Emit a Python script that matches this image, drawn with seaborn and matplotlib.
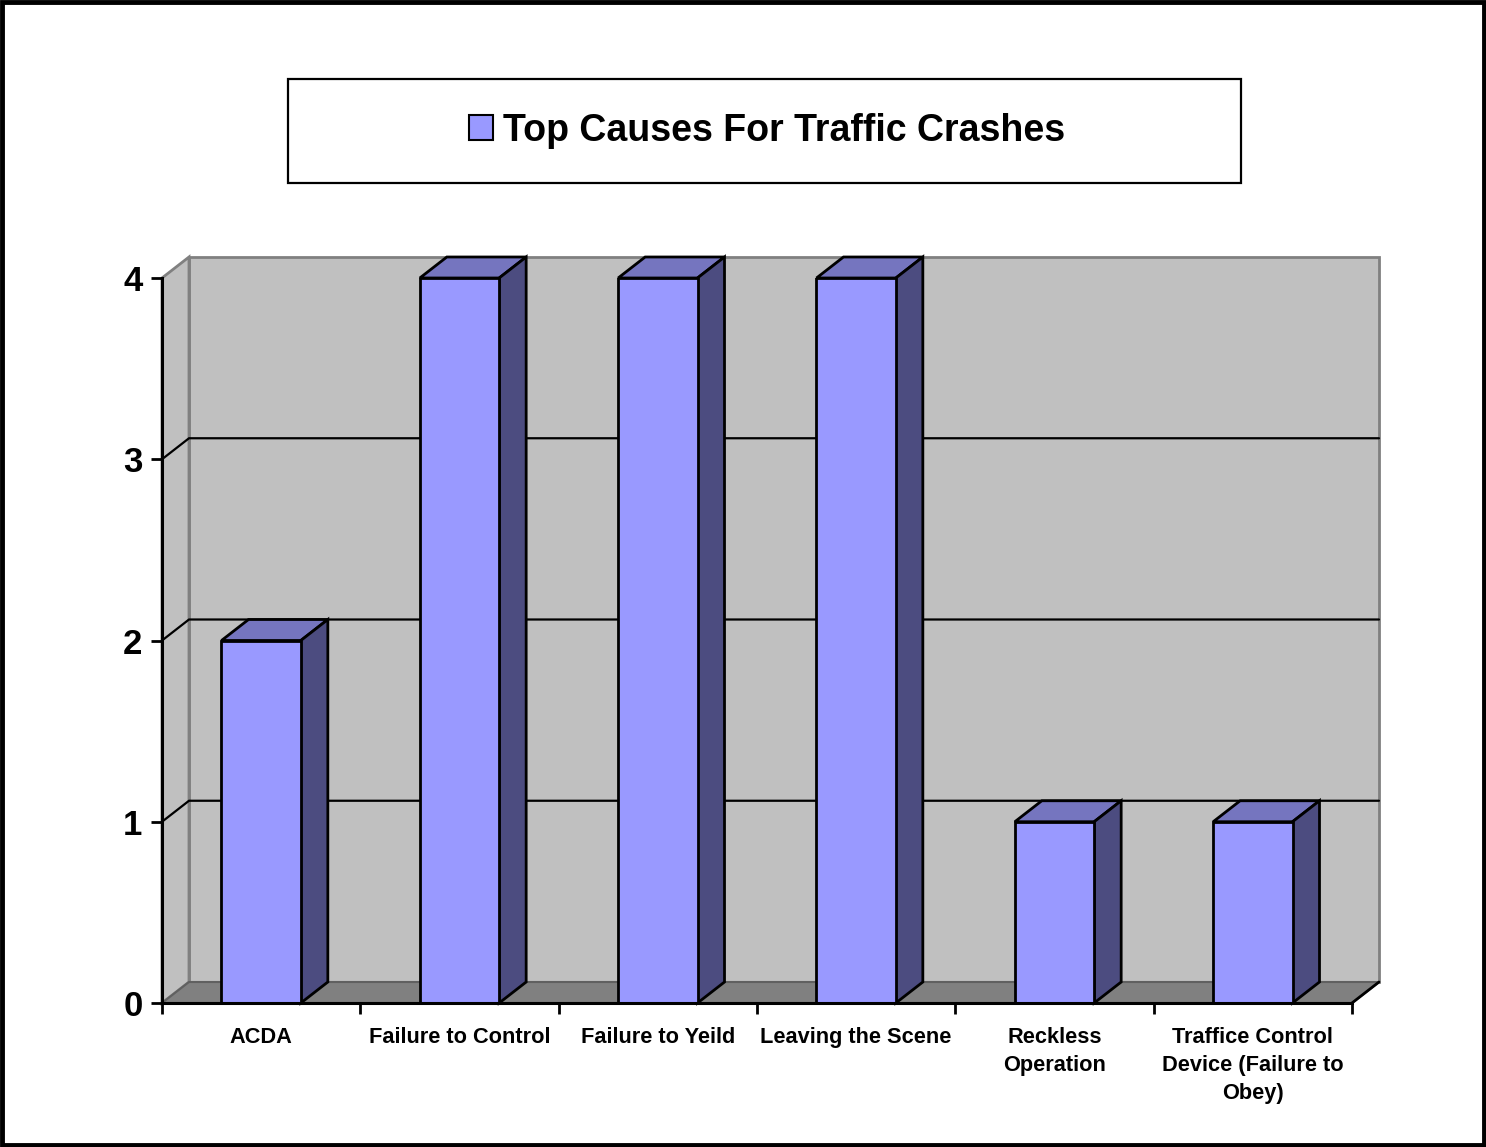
import matplotlib
matplotlib.use("Agg")
import matplotlib.pyplot as plt
from matplotlib.patches import Polygon, Rectangle, Patch
import seaborn as sns

# chart data
causes = ["ACDA", "Failure to Control", "Failure to Yeild", "Leaving the Scene",
          "Reckless Operation", "Traffice Control Device (Failure to Obey)"]
counts = [2, 4, 4, 4, 1, 1]
tick_labels = ["ACDA", "Failure to Control", "Failure to Yeild", "Leaving the Scene",
               "Reckless\nOperation", "Traffice Control\nDevice (Failure to\nObey)"]
series_name = "Top Causes For Traffic Crashes"
yticks = [0, 1, 2, 3, 4]

front_col = "#9999FF"
top_col = "#7575BF"
side_col = "#4C4C80"
wall_col = "#C0C0C0"
floor_col = "#808080"

sns.set_theme(style="white")
plt.rcParams["font.family"] = ["Liberation Sans", "DejaVu Sans"]
plt.rcParams["font.weight"] = "bold"
plt.rcParams["text.color"] = "black"
plt.rcParams["xtick.color"] = "black"
plt.rcParams["ytick.color"] = "black"

W, H = 1486, 1147
fig = plt.figure(figsize=(W / 100, H / 100), dpi=100)
fig.patch.set_facecolor("white")
ax = fig.add_axes([162 / W, 144 / H, 1190 / W, 725 / H])
ax.patch.set_visible(False)

sns.barplot(x=causes, y=counts, color=front_col, width=0.4, saturation=1,
            edgecolor="black", linewidth=2, ax=ax, zorder=3)

n = len(causes)
ax.set_xlim(-0.5, n - 0.5)
ax.set_ylim(0, 4)
# depth offset of the pseudo-3d box (in data units)
dx, dy = 27 / (1190 / n), 21 / (725 / 4)
x0, x1 = -0.5, n - 0.5
ymax = 4

# back wall, left wall, floor
ax.add_patch(Polygon([(x0 + dx, dy), (x1 + dx, dy), (x1 + dx, ymax + dy), (x0 + dx, ymax + dy)],
                     closed=True, facecolor=wall_col, edgecolor="#808080", lw=2,
                     clip_on=False, zorder=0.1))
ax.add_patch(Polygon([(x0, 0), (x0 + dx, dy), (x0 + dx, ymax + dy), (x0, ymax)],
                     closed=True, facecolor=wall_col, edgecolor="#808080", lw=2,
                     clip_on=False, zorder=0.1))
for v in yticks[1:-1]:
    ax.plot([x0, x0 + dx, x1 + dx], [v, v + dy, v + dy], color="black", lw=1.6,
            clip_on=False, zorder=0.5, solid_joinstyle="miter")
ax.add_patch(Polygon([(x0, 0), (x1, 0), (x1 + dx, dy), (x0 + dx, dy)],
                     closed=True, facecolor=floor_col, edgecolor="#606060", lw=1.5,
                     clip_on=False, zorder=0.6))
ax.plot([x1, x1 + dx], [0, dy], color="black", lw=2, clip_on=False, zorder=0.7)

# top and side faces for each bar
for bar in ax.patches[:]:
    if bar.get_facecolor()[:3] != matplotlib.colors.to_rgb(front_col):
        continue
    bx, bw, bh = bar.get_x(), bar.get_width(), bar.get_height()
    top = [(bx, bh), (bx + bw, bh), (bx + bw + dx, bh + dy), (bx + dx, bh + dy)]
    side = [(bx + bw, 0), (bx + bw + dx, dy), (bx + bw + dx, bh + dy), (bx + bw, bh)]
    ax.add_patch(Polygon(top, closed=True, facecolor=top_col, edgecolor="black", lw=2,
                         clip_on=False, zorder=2.9, joinstyle="miter"))
    ax.add_patch(Polygon(side, closed=True, facecolor=side_col, edgecolor="black", lw=2,
                         clip_on=False, zorder=2.9, joinstyle="miter"))

# axes styling
for s in ["top", "right"]:
    ax.spines[s].set_visible(False)
for s in ["left", "bottom"]:
    ax.spines[s].set_color("black")
    ax.spines[s].set_linewidth(2.2)
    ax.spines[s].set_zorder(4)
ax.set_yticks(yticks)
ax.set_yticklabels([str(v) for v in yticks], fontsize=25, fontweight="bold")
ax.tick_params(axis="y", direction="out", length=8, width=2, color="black", pad=6, left=True)
ax.set_xticks(range(n))
ax.set_xticklabels(tick_labels, fontsize=15.7, fontweight="bold", linespacing=1.45)
ax.tick_params(axis="x", which="major", length=0, pad=17)
ax.set_xticks([i - 0.5 for i in range(n + 1)], minor=True)
ax.tick_params(axis="x", which="minor", direction="out", length=8, width=2,
               color="black", bottom=True)
ax.set_xlabel("")
ax.set_ylabel("")
ax.grid(False)

# legend box at the top
fig.patches.append(Rectangle((288 / W, (H - 183) / H), 953 / W, 104 / H,
                             transform=fig.transFigure, facecolor="white",
                             edgecolor="black", lw=1.6, zorder=1))
handle = Patch(facecolor=front_col, edgecolor="black", lw=1.5)
fig.legend([handle], [series_name], loc="center", bbox_to_anchor=(767 / W, (H - 131) / H),
           frameon=False, prop={"size": 27, "weight": "bold"},
           handlelength=0.65, handleheight=0.65, handletextpad=0.27)

# outer figure border
fig.patches.append(Rectangle((2 / W, 2 / H), (W - 4) / W, (H - 4) / H,
                             transform=fig.transFigure, fill=False,
                             edgecolor="black", lw=3.5, zorder=10))

fig.savefig("out.png", dpi=100)
